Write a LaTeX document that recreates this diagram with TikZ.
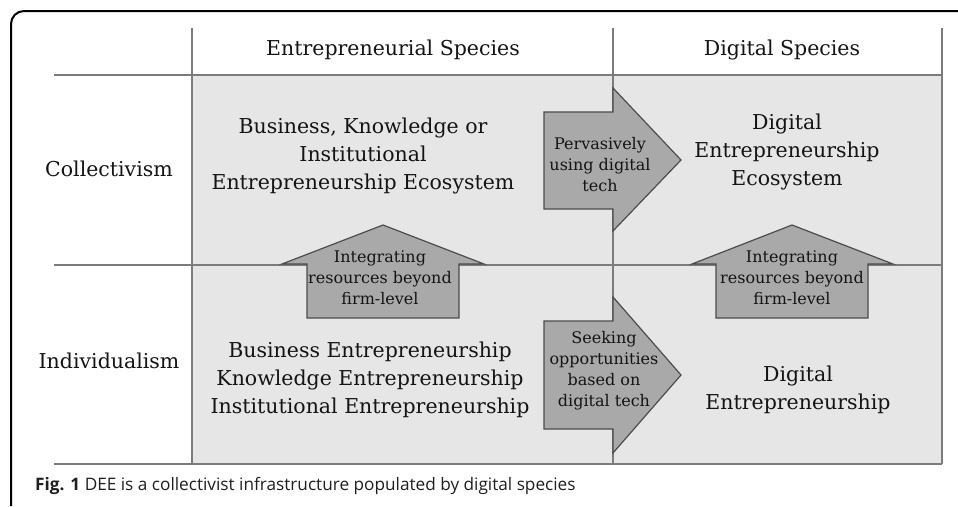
\documentclass[tikz,border=0pt]{standalone}
\usepackage{fontspec}
\setmainfont{DejaVu Serif}
\newfontfamily\capfont{Open Sans}
\definecolor{cellgray}{HTML}{E6E6E6}
\definecolor{arrowgray}{HTML}{A9A9A9}
\definecolor{rulegray}{HTML}{7C7C7C}
\tikzset{
	bigtxt/.style={align=center,text=black!92,font=\fontsize{20.5}{28}\selectfont},
	smalltxt/.style={align=center,text=black!92,font=\fontsize{16}{21}\selectfont},
	fatarrow/.style={fill=arrowgray,draw=black!70,line width=1.2pt,line join=miter},
	rule/.style={draw=rulegray,line width=1.4pt}
}
\begin{document}
\begin{tikzpicture}[x=1pt,y=-1pt,line join=round]
	\useasboundingbox (0,0) rectangle (958,506);
	\draw[line width=2pt,rounded corners=13pt] (11,506) -- (11,11) -- (958,11);
	\fill[cellgray] (192,75) rectangle (942,464);
	\draw[rule] (54,75) -- (942,75) (54,265) -- (942,265) (54,464) -- (942,464);
	\draw[rule] (192,28) -- (192,464) (613,28) -- (613,464) (942,28) -- (942,464);
	\draw[fatarrow] (544,112) -- (613,112) -- (613,88) -- (681,160) -- (613,231) -- (613,209) -- (544,209) -- cycle;
	\draw[fatarrow] (544,321) -- (613,321) -- (613,297) -- (681,375) -- (613,453) -- (613,429) -- (544,429) -- cycle;
	\draw[fatarrow] (307,318) -- (307,264) -- (282,264) -- (383,225) -- (484,264) -- (459,264) -- (459,318) -- cycle;
	\draw[fatarrow] (716,318) -- (716,264) -- (692,264) -- (792,225) -- (893,264) -- (868,264) -- (868,318) -- cycle;
	\node[bigtxt] (hdent) at (393,50) {Entrepreneurial Species};
	\node[bigtxt] (hddig) at (782,50) {Digital Species};
	\node[bigtxt] (rowcol) at (109,169) {Collectivism};
	\node[bigtxt] (rowind) at (109,361) {Individualism};
	\node[bigtxt] (entcol) at (363,156) {Business, Knowledge or\\Institutional\\Entrepreneurship Ecosystem};
	\node[bigtxt] (digcol) at (787,152) {Digital\\Entrepreneurship\\Ecosystem};
	\node[bigtxt] (entind) at (370,380) {Business Entrepreneurship\\Knowledge Entrepreneurship\\Institutional Entrepreneurship};
	\node[bigtxt] (digind) at (798,390) {Digital\\Entrepreneurship};
	\node[smalltxt] (pervas) at (600,165) {Pervasively\\using digital\\tech};
	\node[smalltxt] (seek) at (604,371) {Seeking\\opportunities\\based on\\digital tech};
	\node[smalltxt] (integl) at (380,278) {Integrating\\resources beyond\\firm-level};
	\node[smalltxt] (integr) at (792,278) {Integrating\\resources beyond\\firm-level};
	\node[anchor=base west,inner sep=0,text=black!88,font=\capfont\fontsize{17.2}{20}\selectfont] (caption) at (35,490) {\textbf{Fig. 1} DEE is a collectivist infrastructure populated by digital species};
\end{tikzpicture}
\end{document}
